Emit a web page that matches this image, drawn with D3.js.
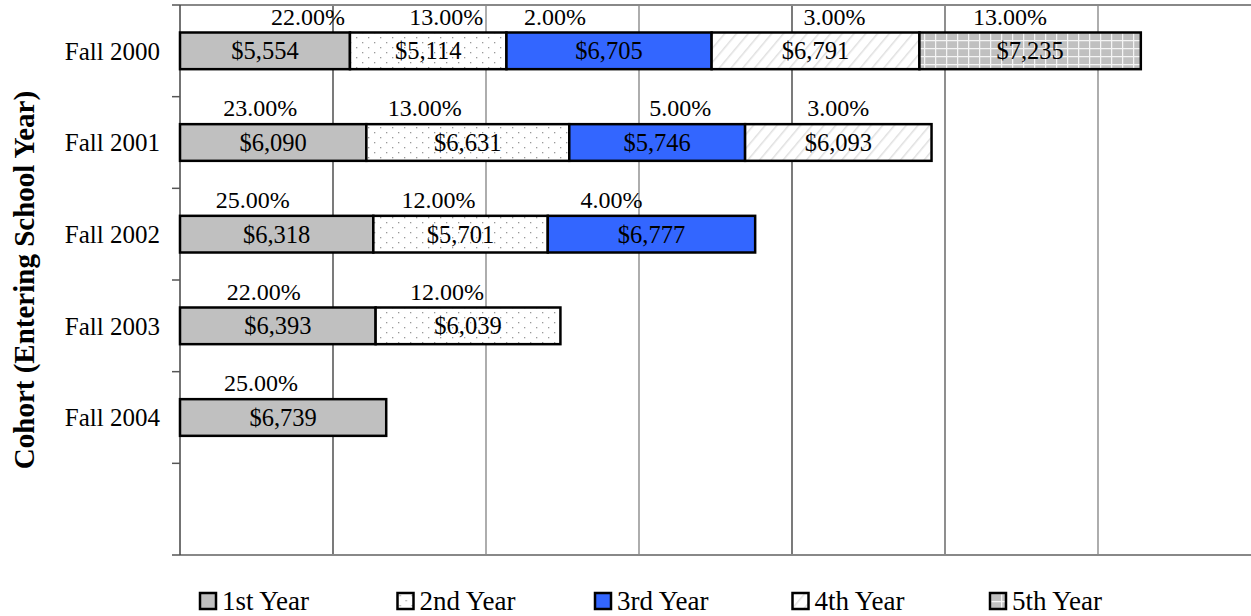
<!DOCTYPE html>
<html>
<head>
<meta charset="utf-8">
<script src="https://cdn.jsdelivr.net/npm/d3@7"></script>
<style>
  body { margin: 0; background: #fff; }
  svg { display: block; font-family: "Liberation Serif", "Times New Roman", serif; }
</style>
</head>
<body>
<div id="chart"></div>
<script>
// cohorts (last band is empty in the original)
var cohorts = ["Fall 2000", "Fall 2001", "Fall 2002", "Fall 2003", "Fall 2004", ""];
var seriesNames = ["1st Year", "2nd Year", "3rd Year", "4th Year", "5th Year"];

// dollar values by year of study, one entry per cohort
var year1 = [5554, 6090, 6318, 6393, 6739];
var year2 = [5114, 6631, 5701, 6039, null];
var year3 = [6705, 5746, 6777, null, null];
var year4 = [6791, 6093, null, null, null];
var year5 = [7235, null, null, null, null];

// percentage labels shown above each segment
var pct1 = [22, 23, 25, 22, 25];
var pct2 = [13, 13, 12, 12, null];
var pct3 = [2, 5, 4, null, null];
var pct4 = [3, 3, null, null, null];
var pct5 = [13, null, null, null, null];

var xTicks = [5000, 10000, 15000, 20000, 25000, 30000];

// label nudges (px) for the percent labels, as placed in the original
var pctNudge = [
    [43, 18, -54, 19, -20],
    [-13, -43, 23, 0],
    [-24, -22, -40],
    [-14, -21],
    [-22]
];

var width = 1251, height = 616,
    margin = {top: 5, right: 0, bottom: 61, left: 180};

var values = [year1, year2, year3, year4, year5];
var pcts = [pct1, pct2, pct3, pct4, pct5];

var svg = d3.select("#chart").append("svg")
    .attr("width", width)
    .attr("height", height);

var defs = svg.append("defs");

// 2nd year: white with small grey dots
var pDots = defs.append("pattern").attr("id", "dots")
    .attr("patternUnits", "userSpaceOnUse").attr("width", 12).attr("height", 10);
pDots.append("rect").attr("width", 12).attr("height", 10).attr("fill", "#fff");
pDots.append("rect").attr("x", 2).attr("y", 2).attr("width", 1.3).attr("height", 1.3).attr("fill", "#999");
pDots.append("rect").attr("x", 8).attr("y", 7).attr("width", 1.3).attr("height", 1.3).attr("fill", "#999");

// 4th year: white with faint diagonal stripes
var pStripe = defs.append("pattern").attr("id", "stripes")
    .attr("patternUnits", "userSpaceOnUse").attr("width", 9).attr("height", 9)
    .attr("patternTransform", "rotate(40)");
pStripe.append("rect").attr("width", 9).attr("height", 9).attr("fill", "#fff");
pStripe.append("line").attr("x1", 0).attr("y1", 0).attr("x2", 0).attr("y2", 9)
    .attr("stroke", "#e0e0e0").attr("stroke-width", 3);

// 5th year: grey with white grid
var pGrid = defs.append("pattern").attr("id", "grid")
    .attr("patternUnits", "userSpaceOnUse").attr("width", 11).attr("height", 8);
pGrid.append("rect").attr("width", 11).attr("height", 8).attr("fill", "#c0c0c0");
pGrid.append("line").attr("x1", 0).attr("y1", 0.5).attr("x2", 11).attr("y2", 0.5)
    .attr("stroke", "#f4f4f4").attr("stroke-width", 1.5);
pGrid.append("line").attr("x1", 0.5).attr("y1", 0).attr("x2", 0.5).attr("y2", 8)
    .attr("stroke", "#f4f4f4").attr("stroke-width", 1.5);

var fills = ["#c0c0c0", "url(#dots)", "#3366ff", "url(#stripes)", "url(#grid)"];

var x = d3.scaleLinear()
    .domain([0, 35000])
    .range([margin.left, width - margin.right]);

var y = d3.scaleBand()
    .domain(cohorts)
    .range([margin.top, height - margin.bottom])
    .padding(0);

var barH = y.bandwidth() * 0.4,
    barOff = y.bandwidth() * 0.3;

// gridlines
var gridColor = ["#222", "#777", "#777", "#222", "#444", "#777"];
svg.append("g").selectAll("line")
    .data(xTicks)
    .enter().append("line")
    .attr("x1", function(d) { return x(d); })
    .attr("x2", function(d) { return x(d); })
    .attr("y1", margin.top)
    .attr("y2", height - margin.bottom)
    .attr("stroke", function(d, i) { return gridColor[i]; })
    .attr("stroke-width", 1.2);

// plot frame top/bottom
svg.append("line")
    .attr("x1", margin.left).attr("x2", width)
    .attr("y1", margin.top).attr("y2", margin.top)
    .attr("stroke", "#888").attr("stroke-width", 2);
svg.append("line")
    .attr("x1", margin.left).attr("x2", width)
    .attr("y1", height - margin.bottom).attr("y2", height - margin.bottom)
    .attr("stroke", "#888").attr("stroke-width", 2);

// y axis with tick marks at band edges
var yAxis = svg.append("g");
yAxis.append("line")
    .attr("x1", margin.left).attr("x2", margin.left)
    .attr("y1", margin.top).attr("y2", height - margin.bottom)
    .attr("stroke", "#444").attr("stroke-width", 1.5);
var edges = cohorts.map(function(c) { return y(c); }).concat([height - margin.bottom]);
yAxis.selectAll("line.tick")
    .data(edges)
    .enter().append("line")
    .attr("class", "tick")
    .attr("x1", margin.left - 8).attr("x2", margin.left)
    .attr("y1", function(d) { return d; }).attr("y2", function(d) { return d; })
    .attr("stroke", "#555").attr("stroke-width", 1.5);

yAxis.selectAll("text")
    .data(cohorts)
    .enter().append("text")
    .attr("x", margin.left - 20)
    .attr("y", function(d) { return y(d) + y.bandwidth() / 2; })
    .attr("dy", "0.35em")
    .attr("text-anchor", "end")
    .style("font-size", "25px")
    .text(function(d) { return d; });

svg.append("text")
    .attr("transform", "translate(34,280) rotate(-90)")
    .attr("text-anchor", "middle")
    .style("font-size", "29px")
    .style("font-weight", "bold")
    .text("Cohort (Entering School Year)");

// build segments from the series arrays
var segs = [];
cohorts.forEach(function(c, ci) {
    var acc = 0;
    values.forEach(function(arr, si) {
        var v = arr[ci];
        if (v == null || ci >= arr.length) return;
        segs.push({cohort: c, ci: ci, si: si, x0: acc, x1: acc + v, value: v, pct: pcts[si][ci]});
        acc += v;
    });
});

var bars = svg.append("g");
bars.selectAll("rect")
    .data(segs)
    .enter().append("rect")
    .attr("x", function(d) { return x(d.x0); })
    .attr("y", function(d) { return y(d.cohort) + barOff; })
    .attr("width", function(d) { return x(d.x1) - x(d.x0); })
    .attr("height", barH)
    .attr("fill", function(d) { return fills[d.si]; })
    .attr("stroke", "#000")
    .attr("stroke-width", 2.5);

var fmt = d3.format("$,");
bars.selectAll("text.val")
    .data(segs)
    .enter().append("text")
    .attr("class", "val")
    .attr("x", function(d) { return (x(d.x0) + x(d.x1)) / 2; })
    .attr("y", function(d) { return y(d.cohort) + barOff + barH / 2; })
    .attr("dy", "0.35em")
    .attr("text-anchor", "middle")
    .style("font-size", "24.5px")
    .text(function(d) { return fmt(d.value); });

bars.selectAll("text.pct")
    .data(segs)
    .enter().append("text")
    .attr("class", "pct")
    .attr("x", function(d) { return (x(d.x0) + x(d.x1)) / 2 + pctNudge[d.ci][d.si]; })
    .attr("y", function(d) { return y(d.cohort) + barOff - 8; })
    .attr("text-anchor", "middle")
    .style("font-size", "24px")
    .text(function(d) { return d3.format(".2f")(d.pct) + "%"; });

// legend
var legend = svg.append("g");
var lx = d3.scalePoint().domain(seriesNames).range([200, 990]);
var item = legend.selectAll("g")
    .data(seriesNames)
    .enter().append("g")
    .attr("transform", function(d) { return "translate(" + lx(d) + ",593)"; });
item.append("rect")
    .attr("width", 16).attr("height", 16)
    .attr("fill", function(d, i) { return fills[i]; })
    .attr("stroke", "#000").attr("stroke-width", 2.5);
item.append("text")
    .attr("x", 22)
    .attr("y", 16.5)
    .style("font-size", "27px")
    .text(function(d) { return d; });
</script>
</body>
</html>
